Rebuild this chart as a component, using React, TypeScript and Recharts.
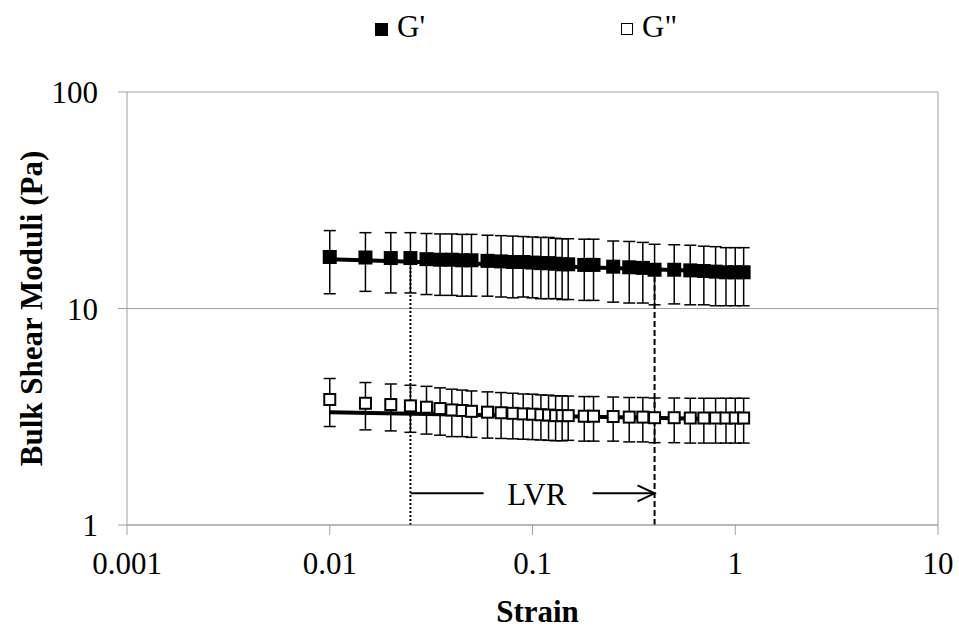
import {
  ScatterChart,
  Scatter,
  XAxis,
  YAxis,
  CartesianGrid,
  ErrorBar,
  Legend,
  ReferenceLine,
  ReferenceDot,
} from 'recharts';

const strain = [
  0.01, 0.015, 0.02, 0.025, 0.03, 0.035, 0.04, 0.045, 0.05, 0.06, 0.07, 0.08, 0.09, 0.1, 0.11, 0.12,
  0.13, 0.14, 0.15, 0.18, 0.2, 0.25, 0.3, 0.35, 0.4, 0.5, 0.6, 0.7, 0.8, 0.9, 1.0, 1.1,
];
// G' storage modulus (Pa) and its SD
const gPrime = [
  17.3, 17.2, 17.1, 17.1, 16.9, 16.8, 16.8, 16.7, 16.7, 16.6, 16.5, 16.4, 16.4, 16.3, 16.2, 16.2,
  16.1, 16.0, 16.0, 15.9, 15.9, 15.6, 15.5, 15.4, 15.1, 15.1, 15.0, 14.9, 14.8, 14.7, 14.7, 14.7,
];
const gPrimeSd = [
  5.6, 5.2, 5.3, 5.3, 5.3, 5.3, 5.3, 5.3, 5.3, 5.2, 5.2, 5.2, 5.1, 5.1, 5.1, 5.1,
  5.0, 5.0, 5.0, 5.0, 5.0, 4.9, 4.9, 4.8, 4.7, 4.6, 4.6, 4.5, 4.5, 4.4, 4.4, 4.4,
];
// G" loss modulus (Pa) and its SD
const gDouble = [
  3.8, 3.65, 3.6, 3.55, 3.5, 3.45, 3.4, 3.38, 3.35, 3.32, 3.3, 3.28, 3.26, 3.25, 3.23, 3.22,
  3.2, 3.2, 3.2, 3.18, 3.18, 3.17, 3.15, 3.15, 3.13, 3.13, 3.12, 3.12, 3.12, 3.12, 3.12, 3.12,
];
const gDoubleSd = [
  0.95, 0.9, 0.88, 0.87, 0.87, 0.85, 0.84, 0.82, 0.81, 0.8, 0.79, 0.78, 0.77, 0.77, 0.76, 0.76,
  0.75, 0.75, 0.74, 0.74, 0.74, 0.73, 0.73, 0.73, 0.73, 0.73, 0.73, 0.73, 0.73, 0.73, 0.73, 0.73,
];

// power trendlines (end points)
const gPrimeTrend = [
  { x: 0.01, y: 16.9 },
  { x: 1.1, y: 14.7 },
];
const gDoubleTrend = [
  { x: 0.01, y: 3.32 },
  { x: 1.1, y: 3.07 },
];

const xTicks = [0.001, 0.01, 0.1, 1, 10];
const yTicks = [1, 10, 100];

// LVR annotation
const lvrStart = 0.025;
const lvrEnd = 0.4;
const lvrStartTop = 15.5;
const lvrEndTop = 14.0;
const lvrArrowY = 1.4;
const lvrLeftLineEnd = 0.0574;
const lvrRightLineStart = 0.198;
const lvrLabelX = 0.105;

const font = '"Liberation Serif", "Times New Roman", serif';
const grey = '#a0a0a0';

const primeData = strain.map((x, i) => ({ x, y: gPrime[i], err: gPrimeSd[i] }));
const doubleData = strain.map((x, i) => ({ x, y: gDouble[i], err: gDoubleSd[i] }));

const FilledSquare = (props: any) => (
  <rect x={props.cx - 7} y={props.cy - 7} width={14} height={14} fill="#000" />
);
const OpenSquare = (props: any) => (
  <rect
    x={props.cx - 5.5}
    y={props.cy - 5.5}
    width={11}
    height={11}
    fill="#fff"
    stroke="#000"
    strokeWidth={2}
  />
);
const NoMarker = () => <g />;

const ArrowHead = (props: any) => (
  <path
    d={`M${props.cx - 17},${props.cy - 8} L${props.cx},${props.cy} L${props.cx - 17},${props.cy + 8}`}
    fill="none"
    stroke="#000"
    strokeWidth={2}
  />
);
const LvrText = (props: any) => (
  <text x={props.cx} y={props.cy} dy={12} textAnchor="middle" fontFamily={font} fontSize={31} fill="#000">
    LVR
  </text>
);

const LegendBox = () => (
  <div style={{ position: 'relative', width: 959, height: 92, fontFamily: font, fontSize: 31, color: '#000' }}>
    <span style={{ position: 'absolute', left: 375, top: 23, width: 13, height: 13, background: '#000' }} />
    <span style={{ position: 'absolute', left: 397, top: 9, lineHeight: 'normal' }}>G'</span>
    <span
      style={{
        position: 'absolute',
        left: 621,
        top: 23,
        width: 10,
        height: 10,
        border: '1.5px solid #000',
        background: '#fff',
      }}
    />
    <span style={{ position: 'absolute', left: 642, top: 9, lineHeight: 'normal' }}>G"</span>
  </div>
);

const tickStyle = { fill: '#000', fontSize: 31, fontFamily: font };
const titleStyle = { fill: '#000', fontSize: 31, fontFamily: font, fontWeight: 'bold' as const };

export default function App() {
  return (
    <div style={{ position: 'absolute', left: 0, top: 0, background: '#fff' }}>
      <ScatterChart width={959} height={630} margin={{ top: 0, right: 21, bottom: 0, left: 0 }}>
        <Legend
          verticalAlign="top"
          content={<LegendBox />}
          wrapperStyle={{ left: 0, top: 0, width: 959, height: 92 }}
        />
        <CartesianGrid vertical={false} stroke={grey} strokeWidth={1} />
        <XAxis
          type="number"
          dataKey="x"
          scale="log"
          domain={[0.001, 10]}
          ticks={xTicks}
          allowDataOverflow
          height={105}
          tickSize={10}
          tickMargin={17}
          tick={tickStyle}
          tickFormatter={(v: number) => String(v)}
          axisLine={{ stroke: grey }}
          tickLine={{ stroke: grey }}
          label={{ value: 'Strain', position: 'insideBottom', offset: 8, dx: 5, style: titleStyle }}
        />
        <YAxis
          type="number"
          dataKey="y"
          scale="log"
          domain={[1, 100]}
          ticks={yTicks}
          allowDataOverflow
          width={127}
          tickSize={9}
          tickMargin={20}
          tick={tickStyle}
          axisLine={{ stroke: grey }}
          tickLine={{ stroke: grey }}
          label={{
            value: 'Bulk Shear Moduli (Pa)',
            angle: -90,
            position: 'insideLeft',
            offset: 31,
            style: { ...titleStyle, textAnchor: 'middle' },
          }}
        />
        <ReferenceLine x={10} stroke={grey} />

        <Scatter
          data={gPrimeTrend}
          line={{ stroke: '#000', strokeWidth: 4 }}
          shape={NoMarker}
          isAnimationActive={false}
          legendType="none"
        />
        <Scatter data={primeData} shape={FilledSquare} isAnimationActive={false} name="G'">
          <ErrorBar dataKey="err" direction="y" width={6} stroke="#000" strokeWidth={1.5} isAnimationActive={false} />
        </Scatter>

        <Scatter
          data={gDoubleTrend}
          line={{ stroke: '#000', strokeWidth: 4 }}
          shape={NoMarker}
          isAnimationActive={false}
          legendType="none"
        />
        <Scatter data={doubleData} shape={OpenSquare} isAnimationActive={false} name='G"'>
          <ErrorBar dataKey="err" direction="y" width={6} stroke="#000" strokeWidth={1.5} isAnimationActive={false} />
        </Scatter>

        <ReferenceLine
          segment={[
            { x: lvrStart, y: 1 },
            { x: lvrStart, y: lvrStartTop },
          ]}
          stroke="#000"
          strokeWidth={2}
          strokeDasharray="2 2"
        />
        <ReferenceLine
          segment={[
            { x: lvrEnd, y: 1 },
            { x: lvrEnd, y: lvrEndTop },
          ]}
          stroke="#000"
          strokeWidth={2}
          strokeDasharray="6 3"
        />
        <ReferenceLine
          segment={[
            { x: lvrStart, y: lvrArrowY },
            { x: lvrLeftLineEnd, y: lvrArrowY },
          ]}
          stroke="#000"
          strokeWidth={2}
        />
        <ReferenceLine
          segment={[
            { x: lvrRightLineStart, y: lvrArrowY },
            { x: lvrEnd, y: lvrArrowY },
          ]}
          stroke="#000"
          strokeWidth={2}
        />
        <ReferenceDot x={lvrEnd} y={lvrArrowY} shape={ArrowHead} />
        <ReferenceDot x={lvrLabelX} y={lvrArrowY} shape={LvrText} />
      </ScatterChart>
    </div>
  );
}
